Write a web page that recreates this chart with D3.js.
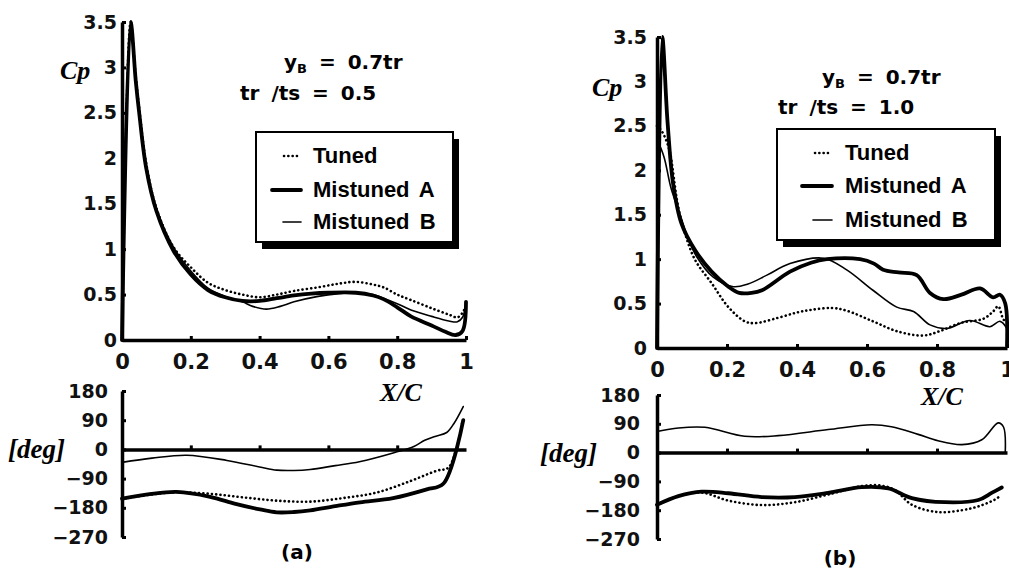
<!DOCTYPE html>
<html>
<head>
<meta charset="utf-8">
<script src="https://cdn.jsdelivr.net/npm/d3@7"></script>
<style>
  body { margin: 0; background: #fff; }
  .tick text { font-family: "DejaVu Sans", sans-serif; font-weight: bold; fill: #111; }
</style>
</head>
<body>
<div id="chart"></div>
<script>
// Ticks
const xTicks = [0, 0.2, 0.4, 0.6, 0.8, 1];
const cpTicks = [0, 0.5, 1, 1.5, 2, 2.5, 3, 3.5];
const phaseTicks = [180, 90, 0, -90, -180, -270];
const seriesNames = ['Tuned', 'Mistuned A', 'Mistuned B'];

// Panel (a): Cp vs X/C  [x, Cp]
const aCpTuned = [[0,0],[0.025,3.5],[0.04,2.9],[0.05,2.55],[0.07,1.95],[0.1,1.45],[0.15,1.02],[0.2,0.8],[0.25,0.63],[0.3,0.55],[0.35,0.5],[0.4,0.47],[0.45,0.5],[0.5,0.54],[0.57,0.58],[0.63,0.62],[0.68,0.64],[0.73,0.61],[0.76,0.58],[0.8,0.5],[0.84,0.44],[0.9,0.35],[0.95,0.28],[0.975,0.25],[0.99,0.3],[1,0.38]];
const aCpMistunedA = [[0,0],[0.025,3.5],[0.04,2.85],[0.05,2.5],[0.07,1.9],[0.1,1.42],[0.15,0.98],[0.2,0.72],[0.25,0.55],[0.3,0.47],[0.35,0.43],[0.4,0.43],[0.45,0.46],[0.5,0.49],[0.55,0.51],[0.6,0.52],[0.68,0.52],[0.73,0.49],[0.76,0.45],[0.8,0.36],[0.84,0.26],[0.9,0.16],[0.94,0.09],[0.97,0.055],[0.99,0.1],[1,0.42]];
const aCpMistunedB = [[0,0],[0.025,3.45],[0.04,2.85],[0.05,2.5],[0.07,1.92],[0.1,1.45],[0.15,1.02],[0.2,0.76],[0.25,0.57],[0.3,0.48],[0.35,0.42],[0.38,0.37],[0.42,0.34],[0.46,0.37],[0.5,0.42],[0.57,0.48],[0.63,0.51],[0.68,0.52],[0.73,0.5],[0.76,0.46],[0.8,0.4],[0.84,0.33],[0.9,0.26],[0.95,0.21],[0.975,0.2],[0.99,0.25],[1,0.4]];

// Panel (a): phase [deg]
const aPhTuned = [[0,-152],[0.08,-140],[0.16,-132],[0.256,-137],[0.353,-148],[0.45,-158],[0.547,-161],[0.643,-150],[0.74,-133],[0.837,-98],[0.914,-66],[0.95,-55],[0.99,88]];
const aPhMistunedA = [[0,-152],[0.08,-138],[0.159,-131],[0.256,-146],[0.33,-168],[0.401,-185],[0.45,-194],[0.5,-193],[0.547,-188],[0.62,-175],[0.692,-163],[0.788,-150],[0.886,-123],[0.934,-106],[0.992,90]];
const aPhMistunedB = [[0,-40],[0.087,-27],[0.188,-18],[0.305,-34],[0.4,-54],[0.45,-64],[0.5,-65],[0.547,-62],[0.62,-50],[0.69,-38],[0.788,-11],[0.85,10],[0.88,28],[0.91,40],[0.944,52],[0.965,80],[0.992,132]];

// Panel (b): Cp vs X/C
const bCpTuned = [[0,2.5],[0.012,2.45],[0.025,2.35],[0.037,2.2],[0.06,1.6],[0.08,1.29],[0.109,0.99],[0.156,0.73],[0.204,0.46],[0.251,0.3],[0.28,0.28],[0.346,0.34],[0.4,0.4],[0.442,0.43],[0.5,0.45],[0.542,0.42],[0.617,0.3],[0.685,0.19],[0.76,0.14],[0.808,0.19],[0.866,0.28],[0.933,0.33],[0.96,0.41],[0.975,0.47],[0.99,0.32],[1,0.3]];
const bCpMistunedA = [[0,0],[0.015,3.5],[0.03,2.55],[0.046,1.85],[0.07,1.4],[0.109,1.1],[0.156,0.86],[0.204,0.69],[0.235,0.62],[0.27,0.62],[0.3,0.65],[0.38,0.86],[0.44,0.96],[0.485,1.0],[0.58,1.0],[0.62,0.95],[0.646,0.88],[0.69,0.85],[0.742,0.82],[0.78,0.62],[0.818,0.55],[0.87,0.6],[0.923,0.67],[0.96,0.57],[0.98,0.6],[0.995,0.5],[1,0.02]];
const bCpMistunedB = [[0,2.35],[0.02,2.15],[0.04,1.8],[0.066,1.5],[0.09,1.22],[0.113,1.03],[0.16,0.8],[0.218,0.69],[0.26,0.72],[0.314,0.82],[0.38,0.95],[0.475,1.01],[0.542,0.88],[0.617,0.65],[0.685,0.46],[0.733,0.41],[0.78,0.26],[0.828,0.22],[0.894,0.31],[0.951,0.24],[0.98,0.3],[1,0.22]];

// Panel (b): phase [deg]
const bPhTuned = [[0,-163],[0.061,-136],[0.128,-125],[0.204,-150],[0.3,-164],[0.394,-155],[0.489,-131],[0.585,-105],[0.64,-103],[0.68,-117],[0.728,-163],[0.803,-186],[0.871,-180],[0.918,-168],[0.965,-147],[0.98,-136]];
const bPhMistunedA = [[0,-163],[0.061,-136],[0.128,-122],[0.204,-127],[0.299,-139],[0.394,-139],[0.489,-126],[0.585,-108],[0.661,-112],[0.728,-142],[0.823,-155],[0.918,-148],[0.956,-126],[0.985,-109]];
const bPhMistunedB = [[0,66],[0.061,77],[0.137,79],[0.251,51],[0.346,53],[0.489,72],[0.613,87],[0.67,81],[0.746,57],[0.803,37],[0.871,25],[0.928,40],[0.975,93],[0.99,80],[0.995,0]];

const width = 1009;
const height = 573;

const svg = d3.select('#chart')
  .append('svg')
  .attr('width', width)
  .attr('height', height)
  .style('background', '#fff');

// line styles for the 3 series
const styles = [
  { width: 2.6, dash: '0.1,4.2' },   // Tuned
  { width: 3.8, dash: null },        // Mistuned A
  { width: 1.6, dash: null }         // Mistuned B
];

function drawLines(g, x, y, series) {
  const line = d3.line()
    .x(d => x(d[0]))
    .y(d => y(d[1]))
    .curve(d3.curveCatmullRom.alpha(0.5));
  // thin and dotted first, thick on top
  [0, 2, 1].forEach(i => {
    g.append('path')
      .datum(series[i])
      .attr('d', line)
      .attr('fill', 'none')
      .attr('stroke', '#000')
      .attr('stroke-width', styles[i].width)
      .attr('stroke-linecap', 'round')
      .attr('stroke-linejoin', 'round')
      .attr('stroke-dasharray', styles[i].dash);
  });
}

function styleAxis(sel) {
  sel.select('.domain').attr('stroke', '#000').attr('stroke-width', 3.5);
  sel.selectAll('.tick line').attr('stroke', '#000').attr('stroke-width', 3);
}

function drawPanel(p) {
  const g = svg.append('g');

  const x = d3.scaleLinear().domain([0, 1]).range([p.x0, p.x1]);
  const yCp = d3.scaleLinear().domain([0, 3.5]).range([p.cpBottom, p.cpTop]);
  const yPh = d3.scaleLinear().domain([-270, 180]).range([p.phBottom, p.phTop]);

  // Cp axes
  g.append('g')
    .attr('transform', `translate(0,${yCp(0)})`)
    .call(d3.axisBottom(x).tickValues(xTicks).tickFormat(d => d).tickSizeInner(-4).tickSizeOuter(0).tickPadding(14))
    .call(styleAxis)
    .selectAll('text').style('font-size', '21px');

  g.append('g')
    .attr('transform', `translate(${x(0)},0)`)
    .call(d3.axisLeft(yCp).tickValues(cpTicks).tickFormat(d => d).tickSizeInner(-4).tickSizeOuter(0).tickPadding(p.cpPad))
    .call(styleAxis)
    .selectAll('text').style('font-size', '19px');

  // phase axes
  g.append('g')
    .attr('transform', `translate(0,${yPh(0)})`)
    .call(d3.axisBottom(x).tickValues(xTicks.slice(1, 5)).tickFormat('').tickSizeInner(-4).tickSizeOuter(0))
    .call(styleAxis);

  g.append('g')
    .attr('transform', `translate(${x(0)},0)`)
    .call(d3.axisLeft(yPh).tickValues(phaseTicks).tickFormat(d => d < 0 ? '\u2212' + (-d) : d).tickSizeInner(-4).tickSizeOuter(0).tickPadding(p.phPad))
    .call(styleAxis)
    .selectAll('text').style('font-size', '19px');

  drawLines(g, x, yCp, p.cp);
  drawLines(g, x, yPh, p.ph);

  // axis titles
  const serif = '"Liberation Serif", serif';
  g.append('text').attr('x', p.cpLabel[0]).attr('y', p.cpLabel[1])
    .style('font-family', serif).style('font-style', 'italic').style('font-weight', 'bold')
    .style('font-size', '26px').text('Cp');
  g.append('text').attr('x', p.degLabel[0]).attr('y', p.degLabel[1])
    .style('font-family', serif).style('font-style', 'italic').style('font-weight', 'bold')
    .style('font-size', '27px').text('[deg]');
  g.append('text').attr('x', p.xcLabel[0]).attr('y', p.xcLabel[1])
    .attr('text-anchor', 'middle')
    .style('font-family', serif).style('font-style', 'italic').style('font-weight', 'bold')
    .style('font-size', '26px').text('X/C');
  g.append('text').attr('x', p.caption[0]).attr('y', p.caption[1])
    .attr('text-anchor', 'middle')
    .style('font-family', '"DejaVu Sans", sans-serif').style('font-weight', 'bold')
    .style('font-size', '20px').text(p.captionText);

  // parameter notes
  const note1 = g.append('text').attr('x', p.note1[0]).attr('y', p.note1[1])
    .style('font-family', '"DejaVu Sans", sans-serif').style('font-weight', 'bold')
    .style('font-size', '20px').style('word-spacing', '5px');
  note1.append('tspan').text('y');
  note1.append('tspan').attr('dy', 4).style('font-size', '13px').text('B');
  note1.append('tspan').attr('dy', -4).text(' = 0.7tr');
  g.append('text').attr('x', p.note2[0]).attr('y', p.note2[1])
    .style('font-family', '"DejaVu Sans", sans-serif').style('font-weight', 'bold')
    .style('font-size', '20px').style('word-spacing', '5px')
    .text(p.note2Text);

  // legend box with drop shadow
  const lg = p.legend;
  g.append('rect').attr('x', lg.x + 6).attr('y', lg.y + 7).attr('width', lg.w).attr('height', lg.h).attr('fill', '#000');
  g.append('rect').attr('x', lg.x).attr('y', lg.y).attr('width', lg.w).attr('height', lg.h)
    .attr('fill', '#fff').attr('stroke', '#000').attr('stroke-width', 2);

  seriesNames.forEach((name, i) => {
    const yy = lg.y + lg.rows[i];
    g.append('line')
      .attr('x1', lg.lineX[i]).attr('x2', lg.lineEnd)
      .attr('y1', yy - 7).attr('y2', yy - 7)
      .attr('stroke', '#000')
      .attr('stroke-width', styles[i].width)
      .attr('stroke-linecap', 'round')
      .attr('stroke-dasharray', styles[i].dash);
    g.append('text').attr('x', lg.textX).attr('y', yy)
      .style('font-family', '"Liberation Sans", sans-serif').style('font-weight', 'bold')
      .style('font-size', '22px').style('word-spacing', '4px')
      .text(name);
  });
}

drawPanel({
  x0: 122, x1: 466, cpBottom: 340, cpTop: 22, phBottom: 537, phTop: 391,
  cpPad: 5, phPad: 14,
  cp: [aCpTuned, aCpMistunedA, aCpMistunedB],
  ph: [aPhTuned, aPhMistunedA, aPhMistunedB],
  cpLabel: [60, 79], degLabel: [8, 458], xcLabel: [401, 401],
  caption: [297, 559], captionText: '(a)',
  note1: [284, 69], note2: [240, 100], note2Text: 'tr /ts = 0.5',
  legend: { x: 256, y: 132, w: 197, h: 110, rows: [31, 65, 97], lineX: [284, 272, 283], lineEnd: 301, textX: 313 }
});

drawPanel({
  x0: 657, x1: 1007, cpBottom: 348, cpTop: 37, phBottom: 539, phTop: 395,
  cpPad: 10, phPad: 17,
  cp: [bCpTuned, bCpMistunedA, bCpMistunedB],
  ph: [bPhTuned, bPhMistunedA, bPhMistunedB],
  cpLabel: [592, 96], degLabel: [540, 462], xcLabel: [942, 405],
  caption: [840, 565], captionText: '(b)',
  note1: [822, 84], note2: [778, 114], note2Text: 'tr /ts = 1.0',
  legend: { x: 777, y: 129, w: 218, h: 111, rows: [31, 64, 98], lineX: [815, 802, 813], lineEnd: 832, textX: 845 }
});
</script>
</body>
</html>
